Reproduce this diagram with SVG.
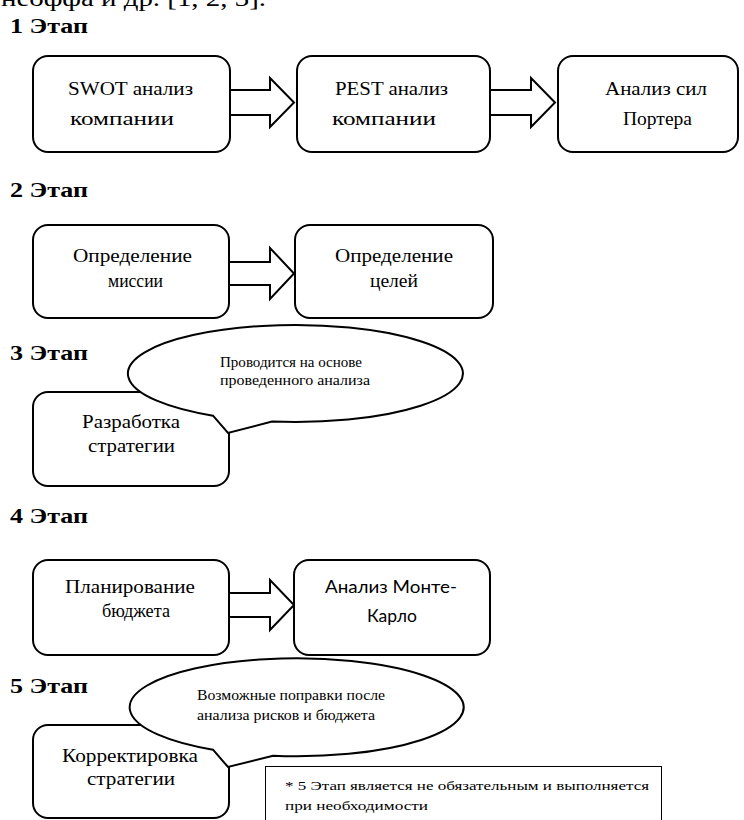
<svg xmlns="http://www.w3.org/2000/svg" width="744" height="820" viewBox="0 0 744 820">
<style>
.bg{fill:#fff}
.box{fill:#fff;stroke:#000;stroke-width:2}
.arr{fill:#fff;stroke:#000;stroke-width:2;stroke-linejoin:miter}
.call{fill:#fff;stroke:#000;stroke-width:2;stroke-linejoin:miter}
.note{fill:#fff;stroke:#000;stroke-width:1}
.f{font-family:"Liberation Serif","DejaVu Serif",serif;fill:#000}
.h{font-size:22px;font-weight:bold}
.t{font-size:18px}
.s{font-size:14px}
.n{font-size:13px}
.sans{font-family:Lato,"Liberation Sans",Arial,sans-serif;font-size:18px;fill:#000}
</style>
<rect class="bg" x="0" y="0" width="744" height="820"/>
<text class="f" x="1" y="6" font-size="24" textLength="265" lengthAdjust="spacingAndGlyphs">неоффа и др. [1, 2, 3].</text>
<g id="headings">
<text class="f h" x="10" y="33" textLength="78" lengthAdjust="spacingAndGlyphs">1 Этап</text>
<text class="f h" x="10" y="197" textLength="78" lengthAdjust="spacingAndGlyphs">2 Этап</text>
<text class="f h" x="10" y="360" textLength="78" lengthAdjust="spacingAndGlyphs">3 Этап</text>
<text class="f h" x="10" y="523" textLength="78" lengthAdjust="spacingAndGlyphs">4 Этап</text>
<text class="f h" x="10" y="693" textLength="78" lengthAdjust="spacingAndGlyphs">5 Этап</text>
</g>
<g id="connectors">
<path class="arr" d="M229,90 H270 V78 L294,102.5 L270,127 V115 H229"/>
<path class="arr" d="M490,90 H531 V78 L555,102.5 L531,127 V115 H490"/>
<path class="arr" d="M229,262 H270 V248 L294,273.5 L270,299 V285 H229"/>
<path class="arr" d="M229,593 H270 V580 L294,605 L270,630 V617 H229"/>
</g>
<g id="swot">
<rect class="box" x="33" y="56" width="197" height="96" rx="15"/>
<text class="f t" x="68" y="95" textLength="125" lengthAdjust="spacingAndGlyphs">SWOT анализ</text>
<text class="f t" x="70" y="125" textLength="104" lengthAdjust="spacingAndGlyphs">компании</text>
</g>
<g id="pest">
<rect class="box" x="297" y="56" width="193" height="96" rx="15"/>
<text class="f t" x="335" y="95" textLength="113" lengthAdjust="spacingAndGlyphs">PEST анализ</text>
<text class="f t" x="332" y="125" textLength="104" lengthAdjust="spacingAndGlyphs">компании</text>
</g>
<g id="porter">
<rect class="box" x="558" y="56" width="180" height="96" rx="15"/>
<text class="f t" x="605" y="95" textLength="102" lengthAdjust="spacingAndGlyphs">Анализ сил</text>
<text class="f t" x="623" y="125" textLength="69" lengthAdjust="spacingAndGlyphs">Портера</text>
</g>
<g id="mission">
<rect class="box" x="33" y="225" width="196" height="93" rx="15"/>
<text class="f t" x="73" y="262" textLength="119" lengthAdjust="spacingAndGlyphs">Определение</text>
<text class="f t" x="108" y="287" textLength="55" lengthAdjust="spacingAndGlyphs">миссии</text>
</g>
<g id="goals">
<rect class="box" x="295" y="225" width="198" height="93" rx="15"/>
<text class="f t" x="335" y="262" textLength="118" lengthAdjust="spacingAndGlyphs">Определение</text>
<text class="f t" x="370" y="287" textLength="48" lengthAdjust="spacingAndGlyphs">целей</text>
</g>
<g id="strategy">
<rect class="box" x="33" y="392" width="196" height="94" rx="15"/>
<text class="f t" x="82" y="428" textLength="98" lengthAdjust="spacingAndGlyphs">Разработка</text>
<text class="f t" x="88" y="452" textLength="87" lengthAdjust="spacingAndGlyphs">стратегии</text>
</g>
<g id="callout3">
<path class="call" d="M213,415.7 A167.5,48.5 0 1 1 272,421.5 L228,433 Z"/>
<text class="f s" x="220" y="367" textLength="142" lengthAdjust="spacingAndGlyphs">Проводится на основе</text>
<text class="f s" x="220" y="385" textLength="150" lengthAdjust="spacingAndGlyphs">проведенного анализа</text>
</g>
<g id="budget">
<rect class="box" x="33" y="560" width="196" height="95" rx="15"/>
<text class="f t" x="65" y="593" textLength="130" lengthAdjust="spacingAndGlyphs">Планирование</text>
<text class="f t" x="102" y="617" textLength="68" lengthAdjust="spacingAndGlyphs">бюджета</text>
</g>
<g id="montecarlo">
<rect class="box" x="294" y="560" width="196" height="95" rx="15"/>
<text class="sans" x="325" y="593" textLength="132" lengthAdjust="spacingAndGlyphs">Анализ Монте-</text>
<text class="sans" x="367" y="622" textLength="50" lengthAdjust="spacingAndGlyphs">Карло</text>
</g>
<g id="correction">
<rect class="box" x="33" y="725" width="196" height="93" rx="15"/>
<text class="f t" x="62" y="762" textLength="136" lengthAdjust="spacingAndGlyphs">Корректировка</text>
<text class="f t" x="87" y="785" textLength="88" lengthAdjust="spacingAndGlyphs">стратегии</text>
</g>
<g id="callout5">
<path class="call" d="M213,749.7 A167,49 0 1 1 273,755.8 L228,767 Z"/>
<text class="f s" x="197" y="700" textLength="188" lengthAdjust="spacingAndGlyphs">Возможные поправки после</text>
<text class="f s" x="197" y="720" textLength="178" lengthAdjust="spacingAndGlyphs">анализа рисков и бюджета</text>
</g>
<g id="footnote">
<rect class="note" x="265.5" y="766.5" width="396" height="60"/>
<text class="f n" x="285" y="790" textLength="364" lengthAdjust="spacingAndGlyphs">* 5 Этап является не обязательным и выполняется</text>
<text class="f n" x="285" y="810" textLength="143" lengthAdjust="spacingAndGlyphs">при необходимости</text>
</g>
</svg>
